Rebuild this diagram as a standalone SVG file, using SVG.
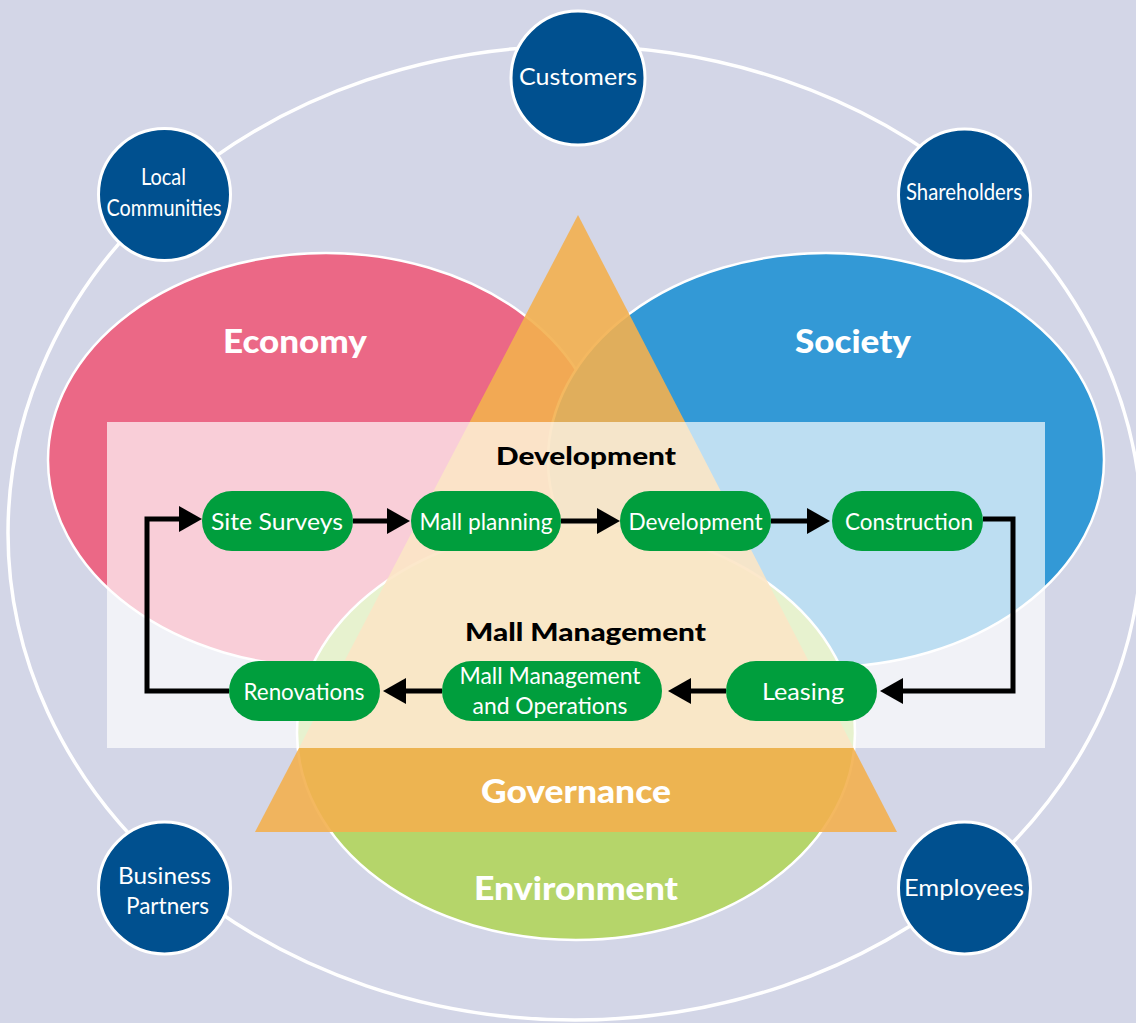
<svg xmlns="http://www.w3.org/2000/svg" width="1136" height="1023" viewBox="0 0 1136 1023">
  <defs>
    <marker id="head" markerUnits="userSpaceOnUse" markerWidth="24" markerHeight="26" refX="1" refY="13" orient="auto">
      <path d="M0,0 L23,13 L0,26 Z" fill="#000"/>
    </marker>
    <style>
      .ring { fill: none; stroke: #fff; stroke-width: 3.5; }
      .stake circle { fill: #00508F; stroke: #fff; stroke-width: 3; }
      .stake text { fill: #fff; font-family: Lato, "Open Sans", "Liberation Sans", sans-serif; font-size: 23px; text-anchor: middle; }
      .pillar { stroke: #fff; stroke-width: 2.5; }
      .big { fill: #fff; font-family: Lato, "Open Sans", "Liberation Sans", sans-serif; font-weight: 900; font-size: 32px; text-anchor: middle; }
      .head { fill: #000; font-family: Lato, "Open Sans", "Liberation Sans", sans-serif; font-weight: 900; font-size: 25px; text-anchor: middle; }
      .step rect { fill: #009E3D; }
      .step text { fill: #fff; font-family: Lato, "Open Sans", "Liberation Sans", sans-serif; font-size: 23px; text-anchor: middle; }
      .flow { fill: none; stroke: #000; stroke-width: 5; stroke-linejoin: miter; marker-end: url(#head); }
    </style>
  </defs>

  <!-- backdrop -->
  <rect x="0" y="0" width="1136" height="1023" fill="#D3D6E7"/>

  <!-- outer stakeholder ring -->
  <ellipse class="ring" cx="575" cy="533" rx="567" ry="487"/>

  <!-- three pillars -->
  <g id="economy">
    <ellipse class="pillar" cx="326" cy="460" rx="278" ry="207" fill="#EB6886"/>
  </g>
  <g id="society">
    <ellipse class="pillar" cx="826" cy="460" rx="278" ry="207" fill="#3399D6"/>
  </g>
  <g id="environment">
    <ellipse class="pillar" cx="576" cy="733" rx="279" ry="207" fill="#B5D56A"/>
  </g>

  <!-- governance triangle -->
  <g id="governance">
    <polygon points="578,215 897,832 255,832" fill="#F3B04F" opacity="0.9"/>
  </g>

  <!-- business cycle panel -->
  <rect x="107" y="422" width="938" height="326" fill="#fff" opacity="0.68"/>

  <!-- pillar labels -->
  <text class="big" x="295" y="353" textLength="144" lengthAdjust="spacingAndGlyphs">Economy</text>
  <text class="big" x="853" y="353" textLength="116" lengthAdjust="spacingAndGlyphs">Society</text>
  <text class="big" x="576" y="803" textLength="190" lengthAdjust="spacingAndGlyphs">Governance</text>
  <text class="big" x="576" y="900" textLength="204" lengthAdjust="spacingAndGlyphs">Environment</text>

  <!-- section headings -->
  <text class="head" x="586" y="465" textLength="180" lengthAdjust="spacingAndGlyphs">Development</text>
  <text class="head" x="585.5" y="641" textLength="241" lengthAdjust="spacingAndGlyphs">Mall Management</text>

  <!-- stakeholders -->
  <g id="customers" class="stake">
    <circle cx="578" cy="78" r="67"/>
    <text x="578" y="85" textLength="118" lengthAdjust="spacingAndGlyphs">Customers</text>
  </g>
  <g id="local-communities" class="stake">
    <circle cx="164.5" cy="194.5" r="66"/>
    <text x="163.5" y="185" textLength="45" lengthAdjust="spacingAndGlyphs">Local</text>
    <text x="164" y="216" textLength="115" lengthAdjust="spacingAndGlyphs">Communities</text>
  </g>
  <g id="shareholders" class="stake">
    <circle cx="964.5" cy="195" r="66"/>
    <text x="964" y="200" textLength="116" lengthAdjust="spacingAndGlyphs">Shareholders</text>
  </g>
  <g id="business-partners" class="stake">
    <circle cx="164.5" cy="888" r="66"/>
    <text x="164.5" y="884" textLength="93" lengthAdjust="spacingAndGlyphs">Business</text>
    <text x="167.5" y="914" textLength="83" lengthAdjust="spacingAndGlyphs">Partners</text>
  </g>
  <g id="employees" class="stake">
    <circle cx="964.5" cy="888" r="66"/>
    <text x="964" y="896" textLength="120" lengthAdjust="spacingAndGlyphs">Employees</text>
  </g>

  <!-- cycle connectors -->
  <g id="connectors">
    <path class="flow" d="M353,521 H388"/>
    <path class="flow" d="M561,521 H598"/>
    <path class="flow" d="M771,521 H808"/>
    <path class="flow" d="M983,519 H1013 V691 H902"/>
    <path class="flow" d="M726,691 H690"/>
    <path class="flow" d="M442,691 H405"/>
    <path class="flow" d="M229,691 H147 V519 H180"/>
  </g>

  <!-- cycle steps -->
  <g id="site-surveys" class="step">
    <rect x="202" y="491" width="151" height="60" rx="30"/>
    <text x="277" y="530" textLength="132" lengthAdjust="spacingAndGlyphs">Site Surveys</text>
  </g>
  <g id="mall-planning" class="step">
    <rect x="411" y="491" width="150" height="60" rx="30"/>
    <text x="486" y="530" textLength="133" lengthAdjust="spacingAndGlyphs">Mall planning</text>
  </g>
  <g id="development" class="step">
    <rect x="620" y="491" width="151" height="60" rx="30"/>
    <text x="695.5" y="530" textLength="134" lengthAdjust="spacingAndGlyphs">Development</text>
  </g>
  <g id="construction" class="step">
    <rect x="832" y="491" width="151" height="60" rx="30"/>
    <text x="909" y="530" textLength="128" lengthAdjust="spacingAndGlyphs">Construction</text>
  </g>
  <g id="leasing" class="step">
    <rect x="726" y="661" width="151" height="60" rx="30"/>
    <text x="803" y="700" textLength="82" lengthAdjust="spacingAndGlyphs">Leasing</text>
  </g>
  <g id="mall-operations" class="step">
    <rect x="442" y="661" width="220" height="60" rx="30"/>
    <text x="550" y="684" textLength="181" lengthAdjust="spacingAndGlyphs">Mall Management</text>
    <text x="550" y="714" textLength="155" lengthAdjust="spacingAndGlyphs">and Operations</text>
  </g>
  <g id="renovations" class="step">
    <rect x="229" y="661" width="151" height="60" rx="30"/>
    <text x="304" y="700" textLength="121" lengthAdjust="spacingAndGlyphs">Renovations</text>
  </g>
</svg>
